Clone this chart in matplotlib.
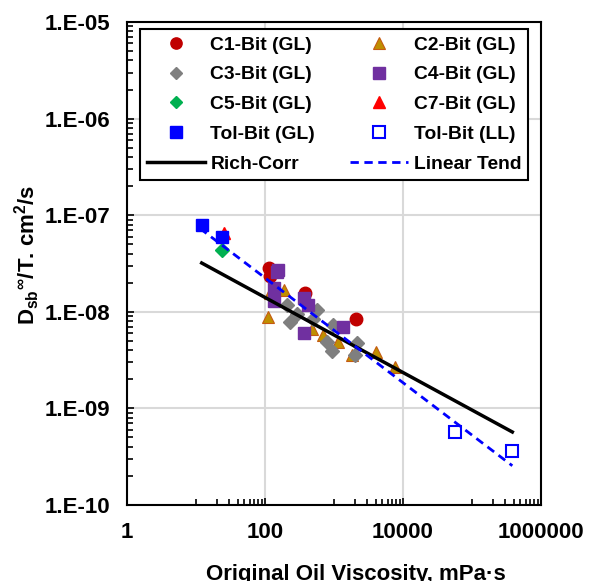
import matplotlib
matplotlib.use('Agg')
import matplotlib.pyplot as plt
import numpy as np
from matplotlib.ticker import FixedLocator, FuncFormatter, LogLocator, NullFormatter

plt.rcParams['font.family'] = ['Liberation Sans', 'DejaVu Sans']
plt.rcParams['font.weight'] = 'bold'
plt.rcParams['mathtext.fontset'] = 'custom'
plt.rcParams['mathtext.bf'] = 'Liberation Sans:bold'
plt.rcParams['mathtext.rm'] = 'Liberation Sans:bold'

# data (viscosity mPa.s, D/T cm2/s)
c1_x = [115, 118, 380, 2050]
c1_y = [2.85e-8, 2.35e-8, 1.58e-8, 8.5e-9]
c2_x = [112, 120, 187, 475, 700, 1150, 1800, 4050, 7600]
c2_y = [8.9e-9, 1.55e-8, 1.7e-8, 6.6e-9, 5.7e-9, 4.9e-9, 3.6e-9, 3.8e-9, 2.7e-9]
c3_x = [208, 288, 230, 560, 500, 980, 780, 930, 2130, 2000]
c3_y = [1.17e-8, 9.6e-9, 7.9e-9, 1.05e-8, 8.5e-9, 7.3e-9, 4.9e-9, 3.9e-9, 4.8e-9, 3.55e-9]
c4_x = [156, 148, 135, 135, 367, 423, 367, 1365]
c4_y = [2.7e-8, 2.6e-8, 1.75e-8, 1.3e-8, 1.38e-8, 1.17e-8, 6.0e-9, 7.0e-9]
c5_x = [23.6]
c5_y = [4.4e-8]
c7_x = [25.5]
c7_y = [6.6e-8]
tol_gl_x = [12.1, 23.6]
tol_gl_y = [8.0e-8, 5.9e-8]
tol_ll_x = [56700, 376000]
tol_ll_y = [5.7e-10, 3.6e-10]
rich_x = [12.1, 384000]
rich_y = [3.2e-8, 5.7e-10]
lin_x = [11.4, 384000]
lin_y = [7.3e-8, 2.55e-10]

fig = plt.figure(figsize=(5.9, 5.81), dpi=100)
ax = fig.add_axes([127/590, 1-505/581, 414/590, 483/581])
ax.set_xscale('log')
ax.set_yscale('log')
ax.set_xlim(1, 1e6)
ax.set_ylim(1e-10, 1e-5)

h1, = ax.plot(c1_x, c1_y, 'o', color='#C00000', ms=9, mec='#C00000', ls='none', label='C1-Bit (GL)')
h2, = ax.plot(c2_x, c2_y, '^', color='#BF8F00', ms=9, mec='#C55A11', mew=0.8, ls='none', label='C2-Bit (GL)')
h3, = ax.plot(c3_x, c3_y, 'D', color='#7F7F7F', ms=7, ls='none', label='C3-Bit (GL)')
h4, = ax.plot(c4_x, c4_y, 's', color='#7030A0', ms=9, ls='none', label='C4-Bit (GL)')
h5, = ax.plot(c5_x, c5_y, 'D', color='#00B050', ms=7, ls='none', label='C5-Bit (GL)')
h7, = ax.plot(c7_x, c7_y, '^', color='#FF0000', ms=9, ls='none', label='C7-Bit (GL)')
h8, = ax.plot(tol_gl_x, tol_gl_y, 's', color='#0000FF', ms=9, ls='none', label='Tol-Bit (GL)')
h9, = ax.plot(tol_ll_x, tol_ll_y, 's', mfc='white', mec='#0000FF', mew=1.5, ms=9, ls='none', label='Tol-Bit (LL)')
hr, = ax.plot(rich_x, rich_y, '-', color='black', lw=2.5, label='Rich-Corr', zorder=5)
hl, = ax.plot(lin_x, lin_y, '--', color='#0000FF', lw=2, dashes=(3, 2), label='Linear Tend', zorder=5)

ax.xaxis.set_major_locator(FixedLocator([1, 100, 1e4, 1e6]))
ax.xaxis.set_minor_locator(FixedLocator([k * 10 ** d for d in (1, 3, 5) for k in range(1, 10)]))
ax.xaxis.set_major_formatter(FuncFormatter(lambda v, p: '%d' % round(v)))
ax.xaxis.set_minor_formatter(NullFormatter())
ax.yaxis.set_major_locator(LogLocator(base=10, numticks=10))
ax.yaxis.set_minor_locator(LogLocator(base=10, subs=np.arange(2, 10), numticks=20))
ax.yaxis.set_major_formatter(FuncFormatter(lambda v, p: '1.E%03d' % round(np.log10(v))))
ax.yaxis.set_minor_formatter(NullFormatter())

ax.tick_params(which='both', direction='in', top=False, right=False, width=1.2, labelsize=16, pad=12)
ax.tick_params(which='major', length=5)
ax.tick_params(which='minor', length=4)
ax.grid(True, which='major', color='#D9D9D9', lw=1.5)
ax.set_axisbelow(True)
for s in ax.spines.values():
    s.set_linewidth(1.5)

ax.set_xlabel('Original Oil Viscosity, mPa\u00b7s', fontsize=16, fontweight='bold')
ax.xaxis.set_label_coords(0.553, -0.122)
ax.set_ylabel(r'D$_{\mathbf{sb}}$$^{\mathbf{\infty}}$/T. cm$^{\mathbf{2}}$/s', fontsize=16, fontweight='bold')
ax.yaxis.set_label_coords(-0.205, 0.518)

handles = [h1, h3, h5, h8, hr, h2, h4, h7, h9, hl]
leg = ax.legend(handles=handles, ncol=2, loc='upper left', bbox_to_anchor=(0.031, 0.679, 0.938, 0.306),
                mode='expand', fontsize=13.9, frameon=True, fancybox=False, edgecolor='black',
                framealpha=1, handlelength=3, handletextpad=0.3, labelspacing=0.64, borderpad=0.35,
                borderaxespad=0, columnspacing=1.7, markerscale=0.9)
leg.get_frame().set_linewidth(1.5)

fig.savefig('out.png', dpi=100)
